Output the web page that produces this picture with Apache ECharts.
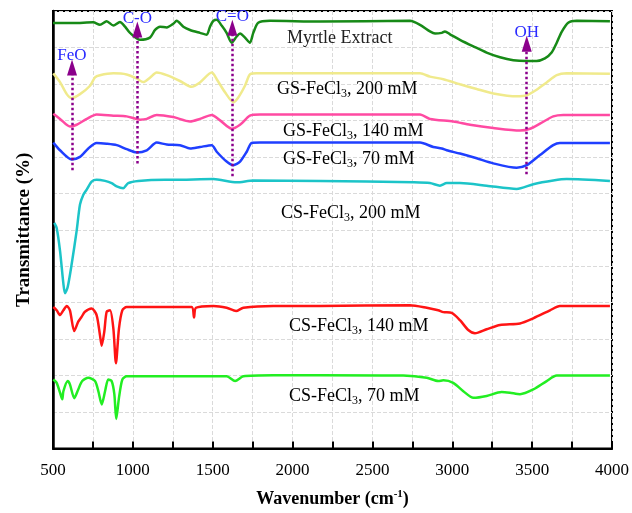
<!DOCTYPE html>
<html>
<head>
<meta charset="utf-8">
<script src="https://cdn.jsdelivr.net/npm/echarts@6/dist/echarts.min.js"></script>
<style>
  html, body { margin: 0; padding: 0; background: #fff; }
  #chart { width: 632px; height: 513px; }
</style>
</head>
<body>
<div id="chart"></div>
<script>
// FTIR spectra, [wavenumber, offset transmittance]
const myrtle = [
  [500, 11.67], [627, 11.67], [752, 11.69], [794, 11.62], [836, 11.72], [878, 11.6], [919, 11.7],
  [951, 11.57], [982, 11.4], [1045, 11.21], [1107, 11.27], [1139, 11.48], [1170, 11.57],
  [1212, 11.55], [1253, 11.65], [1274, 11.73], [1316, 11.57], [1358, 11.48], [1420, 11.4],
  [1462, 11.35], [1483, 11.57], [1504, 11.73], [1525, 11.76], [1556, 11.6], [1587, 11.4],
  [1619, 11.13], [1650, 11.3], [1671, 11.38], [1702, 11.27], [1733, 11.13], [1754, 11.4],
  [1785, 11.68], [1859, 11.73], [2172, 11.71], [2735, 11.73], [2798, 11.62], [2860, 11.44],
  [2892, 11.38], [2934, 11.4], [2954, 11.44], [2986, 11.36], [3048, 11.21], [3132, 11.03],
  [3215, 10.86], [3299, 10.73], [3382, 10.65], [3466, 10.63], [3528, 10.63], [3580, 10.7],
  [3622, 10.86], [3654, 11.13], [3685, 11.43], [3726, 11.68], [3779, 11.73], [3987, 11.72]
];
const gs200 = [
  [502, 10.29], [544, 10.05], [586, 9.72], [617, 9.61], [669, 9.72], [732, 9.95], [763, 10.18],
  [794, 10.24], [878, 10.29], [961, 10.26], [1024, 10.15], [1065, 10.05], [1107, 10.17],
  [1149, 10.31], [1212, 10.24], [1295, 10.08], [1368, 9.92], [1420, 10.04], [1494, 10.31],
  [1525, 10.13], [1577, 9.77], [1629, 9.5], [1660, 9.63], [1702, 9.95], [1733, 10.26],
  [1775, 10.29], [2798, 10.29], [2860, 10.2], [2944, 10.13], [3048, 9.99], [3153, 9.86],
  [3257, 9.74], [3403, 9.66], [3466, 9.69], [3528, 9.84], [3591, 10.04], [3654, 10.24],
  [3716, 10.29], [3987, 10.28]
];
const gs140 = [
  [502, 9.18], [544, 9.04], [606, 8.83], [648, 8.88], [711, 9.04], [773, 9.16], [878, 9.13],
  [961, 9.11], [1045, 9.02], [1087, 9.04], [1149, 9.15], [1253, 9.09], [1358, 8.97],
  [1420, 9.04], [1494, 9.15], [1546, 9.0], [1619, 8.77], [1671, 8.88], [1733, 9.13],
  [1796, 9.16], [2798, 9.16], [2860, 9.04], [3006, 8.97], [3111, 8.88], [3257, 8.79],
  [3424, 8.72], [3487, 8.77], [3549, 8.91], [3632, 9.11], [3695, 9.15], [3987, 9.15]
];
const gs70 = [
  [502, 8.39], [544, 8.18], [617, 7.93], [669, 8.0], [721, 8.23], [773, 8.38], [836, 8.36],
  [899, 8.32], [961, 8.21], [1024, 8.12], [1087, 8.18], [1149, 8.39], [1212, 8.34],
  [1295, 8.32], [1358, 8.23], [1420, 8.27], [1494, 8.32], [1525, 8.14], [1587, 7.87],
  [1629, 7.77], [1671, 7.87], [1713, 8.14], [1744, 8.38], [1796, 8.39], [2798, 8.39],
  [2881, 8.27], [2934, 8.23], [2965, 8.18], [3048, 8.09], [3153, 7.96], [3257, 7.82],
  [3403, 7.7], [3466, 7.77], [3549, 8.05], [3632, 8.32], [3674, 8.38], [3987, 8.38]
];
const cs200 = [
  [508, 6.19], [523, 6.05], [544, 5.42], [565, 4.52], [575, 4.26], [592, 4.43], [617, 5.06],
  [648, 5.97], [669, 6.69], [690, 6.96], [711, 7.1], [742, 7.32], [773, 7.37], [826, 7.34],
  [867, 7.28], [899, 7.19], [940, 7.14], [971, 7.28], [1034, 7.34], [1201, 7.37],
  [1253, 7.37], [1504, 7.39], [1650, 7.3], [1754, 7.35], [2172, 7.34], [2756, 7.3],
  [2860, 7.28], [2923, 7.21], [2965, 7.28], [3048, 7.28], [3215, 7.21], [3403, 7.12],
  [3507, 7.25], [3632, 7.35], [3716, 7.39], [3987, 7.34]
];
const cs140 = [
  [502, 3.88], [523, 3.79], [544, 3.66], [565, 3.79], [586, 3.91], [606, 3.79], [633, 3.22],
  [658, 3.48], [679, 3.61], [700, 3.75], [742, 3.84], [773, 3.66], [794, 3.11], [805, 2.82],
  [821, 3.2], [836, 3.75], [857, 3.79], [878, 3.29], [894, 2.34], [913, 3.29], [934, 3.79],
  [961, 3.88], [1201, 3.88], [1368, 3.88], [1383, 3.59], [1395, 3.86], [1504, 3.91],
  [1587, 3.86], [1646, 3.77], [1692, 3.86], [1879, 3.91], [2172, 3.91], [2735, 3.93],
  [2840, 3.86], [2912, 3.79], [2944, 3.74], [2996, 3.72], [3048, 3.52], [3100, 3.25],
  [3142, 3.16], [3215, 3.27], [3299, 3.39], [3424, 3.43], [3507, 3.57], [3612, 3.79],
  [3674, 3.91], [3987, 3.91]
];
const cs70 = [
  [502, 1.89], [523, 1.8], [544, 1.53], [558, 1.35], [565, 1.57], [592, 1.85], [606, 1.76],
  [633, 1.38], [658, 1.62], [683, 1.85], [721, 1.94], [763, 1.85], [784, 1.57], [805, 1.21],
  [826, 1.57], [846, 1.89], [867, 1.85], [884, 1.49], [896, 0.81], [913, 1.39], [934, 1.89],
  [961, 1.98], [1201, 1.98], [1587, 1.98], [1640, 1.85], [1692, 1.98], [1879, 2.01],
  [2172, 2.01], [2693, 2.0], [2840, 1.94], [2912, 1.85], [2944, 1.87], [3006, 1.8],
  [3069, 1.57], [3132, 1.39], [3215, 1.44], [3309, 1.55], [3361, 1.53], [3424, 1.49],
  [3507, 1.62], [3591, 1.85], [3654, 2.0], [3987, 2.0]
];

// band assignments: name, wavenumber, dotted line from / to
const bandNames = ["FeO", "C-O", "C=O", "OH"];
const bandWave = [619, 1028, 1623, 3466];
const bandFrom = [7.63, 7.82, 7.47, 7.52];
const bandTo = [10.45, 11.49, 11.54, 11.1];

const serif = "'Liberation Serif', 'Times New Roman', serif";

const chart = echarts.init(document.getElementById("chart"));

const lineSeries = (data, color) => ({
  type: "line",
  data: data,
  showSymbol: false,
  smooth: 0.25,
  lineStyle: { color: color, width: 2.5 },
  silent: true
});

// series caption with subscript 3
const caption = (left, top, pre, post) => ({
  type: "text",
  left: left,
  top: top,
  z: 100,
  style: {
    text: pre + "{s|3}{a|" + post + "}",
    rich: {
      a: { fontFamily: serif, fontSize: 18, color: "#222" },
      s: { fontFamily: serif, fontSize: 12, color: "#222", padding: [10, 0, 0, 0] }
    }
  }
});

chart.setOption({
  animation: false,
  grid: {
    left: 53,
    right: 20,
    top: 11,
    bottom: 60,
    show: true,
    borderColor: "#000",
    borderWidth: 2
  },
  xAxis: {
    type: "value",
    min: 500,
    max: 4000,
    interval: 250,
    name: "Wavenumber (cm{sup|-1})",
    nameLocation: "middle",
    nameGap: 40,
    nameTextStyle: {
      fontFamily: serif,
      fontWeight: "bold",
      fontSize: 18,
      color: "#000",
      rich: {
        sup: { fontFamily: serif, fontWeight: "bold", fontSize: 11, color: "#000", padding: [0, 0, 10, 0] }
      }
    },
    axisLine: { lineStyle: { color: "#000", width: 2 } },
    axisTick: { inside: true, length: 7, lineStyle: { color: "#000", width: 2 } },
    axisLabel: {
      fontFamily: serif,
      fontSize: 17,
      color: "#000",
      margin: 14,
      formatter: (v) => (v % 500 === 0 ? String(v) : "")
    },
    splitLine: { lineStyle: { type: "dashed", color: "#dadada", width: 1 } }
  },
  yAxis: {
    type: "value",
    min: 0,
    max: 12,
    interval: 1,
    name: "Transmittance (%)",
    nameLocation: "middle",
    nameGap: 19,
    nameTextStyle: { fontFamily: serif, fontWeight: "bold", fontSize: 19, color: "#000" },
    axisLine: { show: true, lineStyle: { color: "#000", width: 2.5 } },
    axisTick: { show: false },
    axisLabel: { show: false },
    splitLine: { lineStyle: { type: "dashed", color: "#dadada", width: 1 } }
  },
  series: [
    lineSeries(cs70, "#22ee22"),
    lineSeries(cs140, "#ff1414"),
    lineSeries(cs200, "#1cc4c8"),
    lineSeries(gs70, "#1f3fff"),
    lineSeries(gs140, "#ff4aa2"),
    lineSeries(gs200, "#f0ea8c"),
    lineSeries(myrtle, "#178a17"),
    {
      type: "line",
      data: [],
      silent: true,
      markLine: {
        silent: true,
        symbol: ["none", "triangle"],
        symbolSize: [10, 16],
        lineStyle: { type: "dotted", color: "#8b008b", width: 2.5 },
        label: {
          show: true,
          position: "end",
          distance: 3,
          formatter: "{b}",
          fontFamily: serif,
          fontSize: 17,
          color: "#2a2aff"
        },
        data: bandNames.map((n, i) => [
          { name: n, coord: [bandWave[i], bandFrom[i]] },
          { coord: [bandWave[i], bandTo[i]] }
        ])
      }
    }
  ],
  graphic: [
    { type: "text", left: 287, top: 29, z: 100, style: { text: "Myrtle Extract", fontFamily: serif, fontSize: 18, fill: "#222" } },
    caption(277, 80, "{a|GS-FeCl}", ", 200 mM"),
    caption(283, 122, "{a|GS-FeCl}", ", 140 mM"),
    caption(283, 150, "{a|GS-FeCl}", ", 70 mM"),
    caption(281, 204, "{a|CS-FeCl}", ", 200 mM"),
    caption(289, 317, "{a|CS-FeCl}", ", 140 mM"),
    caption(289, 387, "{a|CS-FeCl}", ", 70 mM")
  ]
});

window.addEventListener("resize", () => chart.resize());
</script>
</body>
</html>
